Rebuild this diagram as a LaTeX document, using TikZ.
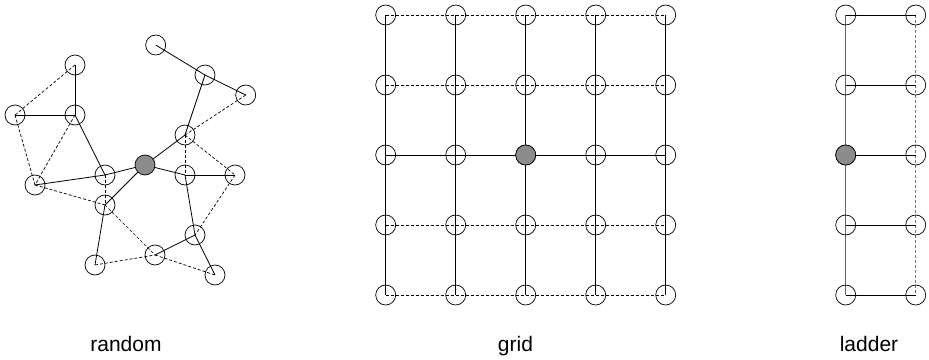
\documentclass[tikz,border=0pt]{standalone}
\usepackage{fontspec}
\setmainfont{Liberation Sans}
\begin{document}
\begin{tikzpicture}[x=1pt,y=-1pt,
  vtx/.style={circle,draw=black,line width=0.7pt,minimum size=20pt,inner sep=0pt},
  hub/.style={vtx,fill=black!45},
  sol/.style={line width=0.8pt},
  dsh/.style={line width=0.7pt,dash pattern=on 3pt off 2pt},
  lab/.style={font=\fontsize{21}{24}\selectfont,anchor=base}]
\useasboundingbox (0,0) rectangle (929,359);
% ---------- random ----------
\coordinate (r1) at (155.7,45);
\coordinate (r2) at (205,75);
\coordinate (r3) at (245.7,95);
\coordinate (r4) at (75,65);
\coordinate (r5) at (15,115);
\coordinate (r6) at (75,115);
\coordinate (r7) at (185,135);
\coordinate (r8) at (145,165);
\coordinate (r9) at (105,175);
\coordinate (r10) at (185,175);
\coordinate (r11) at (235,175);
\coordinate (r12) at (35,185);
\coordinate (r13) at (105,205);
\coordinate (r14) at (195,235);
\coordinate (r15) at (155,255);
\coordinate (r16) at (95,265);
\coordinate (r17) at (215,275);
\foreach \a/\b in {r1/r2,r2/r3,r2/r7,r4/r6,r5/r6,r6/r9,r12/r9,r9/r8,r8/r7,r8/r13,r8/r10,r10/r11,r10/r14,r14/r17,r14/r15,r13/r16}
  \draw[sol] (\a) -- (\b);
\foreach \a/\b in {r4/r5,r5/r12,r6/r12,r3/r7,r7/r10,r7/r11,r9/r13,r12/r13,r13/r15,r11/r14,r16/r15,r15/r17}
  \draw[dsh] (\a) -- (\b);
\foreach \i in {1,2,3,4,5,6,7,9,10,11,12,13,14,15,16,17}
  \node[vtx] (nr\i) at (r\i) {};
\node[hub] (nr8) at (r8) {};
% ---------- grid ----------
\foreach \c [count=\ci] in {385.7,455.7,525.7,595.7,665.7}
  \foreach \r [count=\ri] in {15,85,155,225,295}
    \coordinate (g\ci-\ri) at (\c,\r);
\foreach \ci in {1,...,5}
  \draw[sol] (g\ci-1) -- (g\ci-5);
\foreach \ri in {1,2,4,5}
  \draw[dsh] (g1-\ri) -- (g5-\ri);
\draw[sol] (g1-3) -- (g5-3);
\foreach \ci in {1,...,5}
  \foreach \ri in {1,...,5}
    \node[vtx] (ng\ci-\ri) at (g\ci-\ri) {};
\node[hub] (ng3-3) at (g3-3) {};
% ---------- ladder ----------
\foreach \r [count=\ri] in {15,85,155,225,295}{
  \coordinate (la\ri) at (845.7,\r);
  \coordinate (lb\ri) at (915.7,\r);
}
\draw[line width=0.9pt,black!60] (la1) -- (la5);
\draw[dsh,black!55,line width=0.9pt] (lb1) -- (lb5);
\foreach \ri in {1,...,5}
  \draw[sol] (la\ri) -- (lb\ri);
\foreach \ri in {1,...,5}{
  \node[vtx] (nla\ri) at (la\ri) {};
  \node[vtx] (nlb\ri) at (lb\ri) {};
}
\node[hub] (nla3) at (la3) {};
% ---------- labels ----------
\node[lab] (trandom) at (126,351.5) {random};
\node[lab] (tgrid) at (515.5,351.5) {grid};
\node[lab] (tladder) at (869,351.5) {ladder};
\end{tikzpicture}
\end{document}
